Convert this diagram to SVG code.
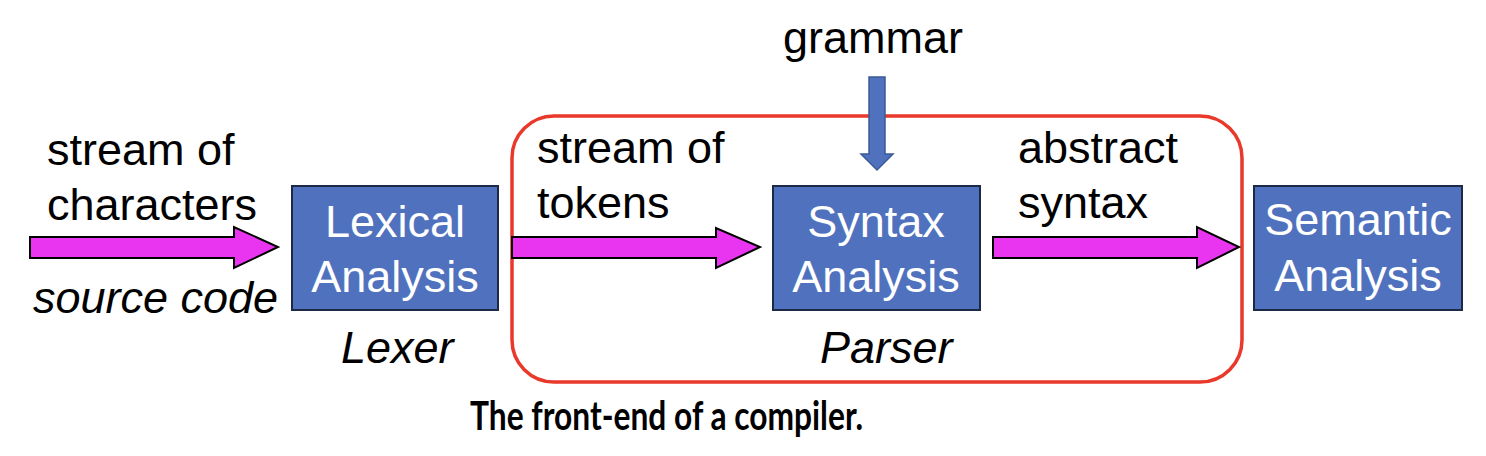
<svg xmlns="http://www.w3.org/2000/svg" width="1486" height="456" viewBox="0 0 1486 456">
<style>
.box{fill:#5072be;stroke:#1c2a48;stroke-width:2}
.bt{font-family:"Liberation Sans",Arial,sans-serif;font-size:45px;fill:#ffffff;text-anchor:middle}
.lb{font-family:"Liberation Sans",Arial,sans-serif;font-size:45px;fill:#000}
.it{font-style:italic}
.mag{fill:#e935f0;stroke:#000;stroke-width:2;stroke-linejoin:miter}
.cap{font-family:Lato,"Open Sans",sans-serif;font-weight:bold;font-size:40px;fill:#000}
</style>
<rect width="1486" height="456" fill="#fff"/>
<g id="parser-frame">
<rect x="512" y="116" width="730" height="266" rx="42" ry="42" fill="none" stroke="#e8392b" stroke-width="3.5"/>
</g>
<g id="connectors">
<polygon class="mag" points="30,237 234,237 234,227 278,247 234,268 234,258 30,258"/>
<polygon class="mag" points="512,237 716,237 716,228 760,247 716,268 716,258 512,258"/>
<polygon class="mag" points="993,237 1197,237 1197,227 1239,247 1197,268 1197,258 993,258"/>
<polygon points="869,77 885,77 885,154 893,154 877,170 861,154 869,154" fill="#5072be" stroke="#3b5a98" stroke-width="1.5"/>
</g>
<g id="lexical">
<rect class="box" x="292" y="186" width="206" height="124"/>
<text class="bt" x="395" y="237">Lexical</text>
<text class="bt" x="395" y="292">Analysis</text>
</g>
<g id="syntax">
<rect class="box" x="773" y="186" width="207" height="124"/>
<text class="bt" x="876" y="237">Syntax</text>
<text class="bt" x="876" y="292">Analysis</text>
</g>
<g id="semantic">
<rect class="box" x="1254" y="186" width="208" height="124"/>
<text class="bt" x="1358" y="235">Semantic</text>
<text class="bt" x="1358" y="291">Analysis</text>
</g>
<g id="labels">
<text class="lb" x="47" y="165">stream of</text>
<text class="lb" x="47" y="220">characters</text>
<text class="lb it" x="33" y="313">source code</text>
<text class="lb it" x="341" y="363">Lexer</text>
<text class="lb" x="783" y="53">grammar</text>
<text class="lb" x="537" y="163">stream of</text>
<text class="lb" x="537" y="218">tokens</text>
<text class="lb it" x="820" y="363">Parser</text>
<text class="lb" x="1018" y="163">abstract</text>
<text class="lb" x="1018" y="218">syntax</text>
<text class="cap" x="470" y="430" textLength="393" lengthAdjust="spacingAndGlyphs">The front-end of a compiler.</text>
</g>
</svg>
